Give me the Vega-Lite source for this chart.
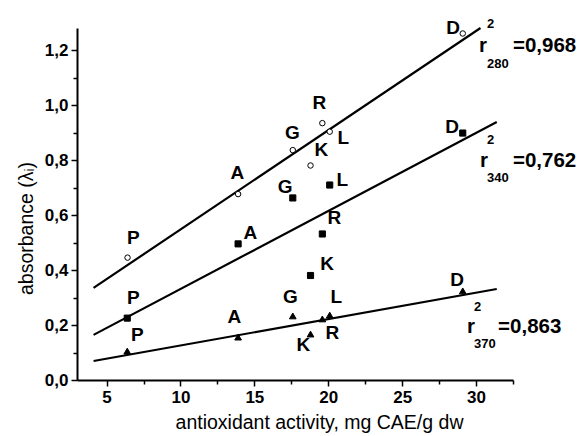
{
  "$schema": "https://vega.github.io/schema/vega-lite/v6.json",
  "width": 436,
  "height": 352,
  "autosize": {"type": "none"},
  "padding": {"left": 77, "top": 28, "right": 68, "bottom": 56},
  "background": "white",
  "config": {"view": {"stroke": null}, "font": "Liberation Sans"},
  "datasets": {
    "points": [
      {"series": "280", "sample": "P", "x": 6.42, "y": 0.445, "lx": 6.82, "ly": 0.516},
      {"series": "280", "sample": "A", "x": 13.9, "y": 0.676, "lx": 13.85, "ly": 0.753},
      {"series": "280", "sample": "G", "x": 17.6, "y": 0.836, "lx": 17.57, "ly": 0.898},
      {"series": "280", "sample": "K", "x": 18.8, "y": 0.78, "lx": 19.53, "ly": 0.836},
      {"series": "280", "sample": "R", "x": 19.6, "y": 0.934, "lx": 19.39, "ly": 1.007},
      {"series": "280", "sample": "L", "x": 20.1, "y": 0.903, "lx": 21.01, "ly": 0.88},
      {"series": "280", "sample": "D", "x": 29.1, "y": 1.26, "lx": 28.45, "ly": 1.28},
      {"series": "340", "sample": "P", "x": 6.4, "y": 0.225, "lx": 6.82, "ly": 0.298},
      {"series": "340", "sample": "A", "x": 13.9, "y": 0.495, "lx": 14.73, "ly": 0.535},
      {"series": "340", "sample": "G", "x": 17.6, "y": 0.662, "lx": 17.09, "ly": 0.702},
      {"series": "340", "sample": "K", "x": 18.8, "y": 0.38, "lx": 19.93, "ly": 0.422},
      {"series": "340", "sample": "R", "x": 19.6, "y": 0.531, "lx": 20.41, "ly": 0.589},
      {"series": "340", "sample": "L", "x": 20.1, "y": 0.709, "lx": 20.95, "ly": 0.727},
      {"series": "340", "sample": "D", "x": 29.1, "y": 0.898, "lx": 28.38, "ly": 0.92},
      {"series": "370", "sample": "P", "x": 6.4, "y": 0.105, "lx": 7.09, "ly": 0.164},
      {"series": "370", "sample": "A", "x": 13.9, "y": 0.156, "lx": 13.65, "ly": 0.229},
      {"series": "370", "sample": "G", "x": 17.6, "y": 0.233, "lx": 17.43, "ly": 0.302},
      {"series": "370", "sample": "K", "x": 18.8, "y": 0.167, "lx": 18.31, "ly": 0.127},
      {"series": "370", "sample": "R", "x": 19.6, "y": 0.222, "lx": 20.27, "ly": 0.171},
      {"series": "370", "sample": "L", "x": 20.1, "y": 0.236, "lx": 20.54, "ly": 0.302},
      {"series": "370", "sample": "D", "x": 29.1, "y": 0.324, "lx": 28.72, "ly": 0.364}
    ],
    "fits": [
      {"series": "280", "x": 4.12, "y": 0.335},
      {"series": "280", "x": 30.3, "y": 1.28},
      {"series": "340", "x": 4.12, "y": 0.164},
      {"series": "340", "x": 31.4, "y": 0.938},
      {"series": "370", "x": 4.12, "y": 0.069},
      {"series": "370", "x": 31.4, "y": 0.331}
    ],
    "notes": [
      {"text": "r", "x": 30.2, "y": 1.193, "role": "main"},
      {"text": "=0,968", "x": 32.5, "y": 1.193, "role": "main"},
      {"text": "2", "x": 30.74, "y": 1.28, "role": "script"},
      {"text": "280", "x": 30.74, "y": 1.135, "role": "script"},
      {"text": "r", "x": 30.27, "y": 0.775, "role": "main"},
      {"text": "=0,762", "x": 32.5, "y": 0.775, "role": "main"},
      {"text": "2", "x": 30.74, "y": 0.858, "role": "script"},
      {"text": "340", "x": 30.74, "y": 0.72, "role": "script"},
      {"text": "r", "x": 29.39, "y": 0.171, "role": "main"},
      {"text": "=0,863", "x": 31.49, "y": 0.171, "role": "main"},
      {"text": "2", "x": 29.86, "y": 0.251, "role": "script"},
      {"text": "370", "x": 29.86, "y": 0.116, "role": "script"}
    ]
  },
  "resolve": {"axis": {"x": "independent", "y": "independent"}},
  "layer": [
    {
      "data": {"name": "fits"},
      "mark": {"type": "line", "color": "black", "strokeWidth": 2.2},
      "encoding": {
        "x": {"field": "x", "type": "quantitative", "scale": {"domain": [3, 32.5], "nice": false, "zero": false},
          "axis": {"orient": "bottom", "values": [7.5, 12.5, 17.5, 22.5, 27.5, 32.5], "labels": false, "domain": false, "grid": false, "title": null, "tickSize": 4, "tickWidth": 1.5, "tickColor": "black"}},
        "y": {"field": "y", "type": "quantitative", "scale": {"domain": [0, 1.28], "nice": false, "zero": false},
          "axis": {"orient": "left", "values": [0.1, 0.3, 0.5, 0.7, 0.9, 1.1], "labels": false, "domain": false, "grid": false, "title": null, "tickSize": 4, "tickWidth": 1.5, "tickColor": "black"}},
        "detail": {"field": "series"}
      }
    },
    {
      "data": {"name": "points"},
      "mark": {"type": "point", "stroke": "black", "strokeWidth": 1, "opacity": 1},
      "encoding": {
        "x": {"field": "x", "type": "quantitative", "scale": {"domain": [3, 32.5], "nice": false, "zero": false},
          "axis": {"orient": "bottom", "values": [5, 10, 15, 20, 25, 30], "grid": false, "domainColor": "black", "domainWidth": 2, "tickColor": "black", "tickWidth": 1.5, "tickSize": 6, "labelFont": "Liberation Sans", "labelFontWeight": "bold", "labelFontSize": 17, "labelColor": "black", "labelPadding": 3, "labelFlush": false,
            "title": "antioxidant activity, mg CAE/g dw", "titleFont": "Liberation Sans", "titleFontWeight": "normal", "titleFontSize": 19.5, "titleColor": "black", "titleX": 242, "titleY": 48, "titleBaseline": "alphabetic"}},
        "y": {"field": "y", "type": "quantitative", "scale": {"domain": [0, 1.28], "nice": false, "zero": false},
          "axis": {"orient": "left", "values": [0, 0.2, 0.4, 0.6, 0.8, 1.0, 1.2], "grid": false, "domainColor": "black", "domainWidth": 2, "tickColor": "black", "tickWidth": 1.5, "tickSize": 6, "labelFont": "Liberation Sans", "labelFontWeight": "bold", "labelFontSize": 17, "labelColor": "black", "labelPadding": 3, "labelFlush": false,
            "labelExpr": "replace(format(datum.value, '.1f'), '.', ',')",
            "title": "absorbance (λᵢ)", "titleFont": "Liberation Sans", "titleFontWeight": "normal", "titleFontSize": 19.5, "titleColor": "black", "titleX": -45, "titleY": 200, "titleBaseline": "alphabetic", "titleAngle": -90}},
        "shape": {"field": "series", "type": "nominal", "scale": {"domain": ["280", "340", "370"], "range": ["circle", "square", "triangle-up"]}, "legend": null},
        "fill": {"field": "series", "type": "nominal", "scale": {"domain": ["280", "340", "370"], "range": ["white", "black", "black"]}, "legend": null},
        "size": {"field": "series", "type": "nominal", "scale": {"domain": ["280", "340", "370"], "range": [30, 45, 55]}, "legend": null}
      }
    },
    {
      "data": {"name": "points"},
      "mark": {"type": "text", "font": "Liberation Sans", "fontWeight": "bold", "fontSize": 19, "color": "black", "align": "center", "baseline": "middle"},
      "encoding": {
        "x": {"field": "lx", "type": "quantitative", "axis": null},
        "y": {"field": "ly", "type": "quantitative", "axis": null},
        "text": {"field": "sample"}
      }
    },
    {
      "data": {"name": "notes"},
      "transform": [{"filter": "datum.role === 'main'"}],
      "mark": {"type": "text", "font": "Liberation Sans", "fontWeight": "bold", "fontSize": 20.5, "color": "black", "align": "left", "baseline": "alphabetic"},
      "encoding": {
        "x": {"field": "x", "type": "quantitative", "axis": null},
        "y": {"field": "y", "type": "quantitative", "axis": null},
        "text": {"field": "text"}
      }
    },
    {
      "data": {"name": "notes"},
      "transform": [{"filter": "datum.role === 'script'"}],
      "mark": {"type": "text", "font": "Liberation Sans", "fontWeight": "bold", "fontSize": 13, "color": "black", "align": "left", "baseline": "alphabetic"},
      "encoding": {
        "x": {"field": "x", "type": "quantitative", "axis": null},
        "y": {"field": "y", "type": "quantitative", "axis": null},
        "text": {"field": "text"}
      }
    }
  ]
}
